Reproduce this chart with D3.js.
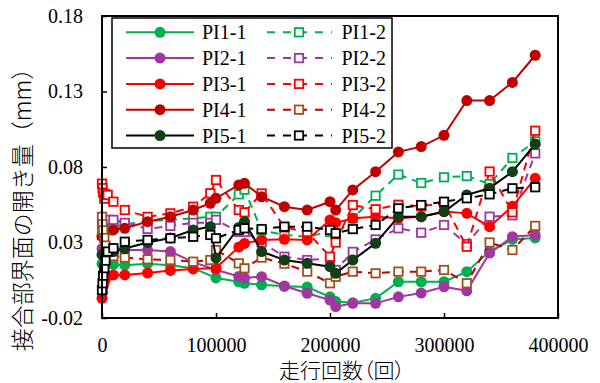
<!DOCTYPE html>
<html><head><meta charset="utf-8">
<script src="https://cdn.jsdelivr.net/npm/d3@7"></script>
<style>
body{margin:0;background:#fff;}
svg{display:block;}
</style></head>
<body>
<svg id="c" width="600" height="383"></svg>
<script>
// ---- data ----
const xs = [0, 500, 1000, 2000, 3000, 5000, 10000, 20000, 40000, 60000, 80000, 95000, 100000, 120000, 125000, 140000, 160000, 180000, 200000, 205000, 220000, 240000, 260000, 280000, 300000, 320000, 340000, 360000, 380000];
const pi1_1 = [0.016, null, null, null, null, 0.016, 0.0155, 0.015, 0.016, 0.015, 0.013, null, 0.0065, 0.004, 0.003, 0.002, 0.001, 0.0005, -0.006, -0.009, -0.0099, -0.007, 0.004, 0.004, 0.004, 0.0107, 0.024, 0.032, 0.033];
const pi1_2 = [0.035, null, null, null, null, 0.038, 0.040, 0.042, 0.044, 0.045, 0.046, 0.047, 0.047, 0.0619, 0.065, 0.038, 0.035, 0.034, 0.037, 0.035, 0.046, 0.061, 0.075, 0.0694, 0.0732, 0.074, 0.0687, 0.086, 0.097];
const pi2_1 = [0.026, null, null, null, null, null, 0.026, 0.025, 0.025, 0.024, 0.017, null, 0.012, 0.0075, 0.0065, 0.0074, 0.0012, -0.0036, -0.0081, -0.0125, -0.0103, -0.0103, -0.006, -0.0035, 0.0007, -0.002, 0.023, 0.0338, 0.035];
const pi2_2 = [0.042, null, 0.044, null, null, 0.045, 0.045, 0.043, 0.039, 0.041, 0.043, 0.043, 0.045, 0.037, 0.037, 0.030, 0.0206, 0.0184, 0.0195, 0.0118, 0.0238, 0.032, 0.0394, 0.0365, 0.0416, 0.029, 0.0471, 0.048, 0.089];
const pi3_1 = [-0.007, -0.003, 0.001, 0.004, 0.006, 0.008, 0.0085, 0.0085, 0.0098, 0.0115, 0.0125, null, 0.0131, 0.027, 0.0294, 0.0317, 0.0321, 0.0317, 0.0449, 0.043, 0.046, 0.047, 0.046, 0.047, 0.0505, 0.0493, 0.0405, 0.054, 0.0725];
const pi3_2 = [0.069, 0.066, 0.063, 0.059, 0.062, 0.0615, 0.057, 0.0515, 0.047, 0.0493, 0.0537, 0.0626, 0.0714, 0.0515, 0.050, 0.0625, 0.040, 0.037, 0.0206, 0.030, 0.0548, 0.052, 0.055, 0.054, 0.056, 0.0272, 0.077, 0.050, 0.104];
const pi4_1 = [0.034, null, null, null, null, null, 0.0383, 0.0394, 0.0438, 0.047, 0.0515, 0.056, 0.0593, 0.0681, 0.0692, 0.0603, 0.0537, 0.0515, 0.057, 0.0515, 0.0648, 0.0769, 0.090, 0.0935, 0.101, 0.124, 0.124, 0.136, 0.154];
const pi4_2 = [0.047, 0.042, 0.038, 0.033, 0.028, 0.022, 0.021, 0.020, 0.0189, 0.0184, 0.0173, 0.0184, 0.025, 0.0162, 0.0129, 0.020, 0.016, 0.0107, 0.003, 0.0073, 0.0107, 0.0096, 0.0107, 0.0107, 0.0118, 0.003, 0.030, 0.025, 0.041];
const pi5_1 = [0.022, null, null, null, null, 0.023, 0.024, 0.026, 0.030, 0.033, 0.0383, 0.0405, 0.0198, 0.040, 0.0438, 0.024, 0.0184, 0.0162, 0.014, 0.0096, 0.0184, 0.0295, 0.0471, 0.0471, 0.0504, 0.0615, 0.066, 0.0769, 0.0952];
const pi5_2 = [-0.0015, 0.003, 0.008, 0.013, 0.018, 0.024, 0.0262, 0.0305, 0.0317, 0.0328, 0.0338, 0.035, 0.0328, 0.0383, 0.0394, 0.0389, 0.0405, 0.0405, 0.0383, 0.0361, 0.0389, 0.0416, 0.0526, 0.0548, 0.057, 0.0593, 0.0619, 0.0659, 0.0666];
const seriesNames = ["PI1-1","PI1-2","PI2-1","PI2-2","PI3-1","PI3-2","PI4-1","PI4-2","PI5-1","PI5-2"];
const seriesValues = [pi1_1, pi1_2, pi2_1, pi2_2, pi3_1, pi3_2, pi4_1, pi4_2, pi5_1, pi5_2];
const yTicks = [-0.02, 0.03, 0.08, 0.13, 0.18];
const xTicks = [0, 100000, 200000, 300000, 400000];
const xTitle = "走行回数（回）";
const yTitle = "接合部界面の開き量（mm）";

// ---- styles ----
const styles = {
  "PI1-1": {line:"#00B050", mk:"circle", fill:"#00B050", stroke:"#00B050", dash:false},
  "PI1-2": {line:"#00B050", mk:"square", fill:"#fff", stroke:"#00B050", dash:true},
  "PI2-1": {line:"#A0379F", mk:"circle", fill:"#A0379F", stroke:"#A0379F", dash:false},
  "PI2-2": {line:"#A0379F", mk:"square", fill:"#fff", stroke:"#A0379F", dash:true},
  "PI3-1": {line:"#FF0000", mk:"circle", fill:"#FF0000", stroke:"#FF0000", dash:false},
  "PI3-2": {line:"#FF0000", mk:"square", fill:"#fff", stroke:"#FF0000", dash:true},
  "PI4-1": {line:"#C00000", mk:"circle", fill:"#C00000", stroke:"#C00000", dash:false},
  "PI4-2": {line:"#C00000", mk:"square", fill:"#fff", stroke:"#A0501E", dash:true},
  "PI5-1": {line:"#000000", mk:"circle", fill:"#123F17", stroke:"#123F17", dash:false},
  "PI5-2": {line:"#000000", mk:"square", fill:"#fff", stroke:"#000000", dash:true}
};
const serif = "'Liberation Serif','Times New Roman',serif";
const cjk = "'Noto Sans CJK JP','Noto Sans CJK SC',sans-serif";

const svg = d3.select("#c");
svg.append("rect").attr("width",600).attr("height",383).attr("fill","#fff");
const L = 102, R = 558, T = 16, B = 318;
const x = d3.scaleLinear().domain([0,400000]).range([L,R]);
const y = d3.scaleLinear().domain([-0.02,0.18]).range([B,T]);

// axes
const yAx = svg.append("g").attr("transform",`translate(${L},0)`)
  .call(d3.axisLeft(y).tickValues(yTicks).tickSizeInner(-5).tickSizeOuter(0).tickPadding(19).tickFormat(d=>d.toFixed(2)));
const xAx = svg.append("g").attr("transform",`translate(0,${B})`)
  .call(d3.axisBottom(x).tickValues(xTicks).tickSizeInner(-5).tickSizeOuter(0).tickPadding(20).tickFormat(d=>String(d)));
[yAx,xAx].forEach(g=>{
  g.select(".domain").remove();
  g.selectAll(".tick line").attr("stroke","#000").attr("stroke-width",1.5);
  g.selectAll(".tick text").attr("fill","#000").style("font-family",serif).style("font-size","20px");
});

// series
const dataOf = vals => xs.map((xv,i)=>({x:xv,y:vals[i]})).filter(d=>d.y!==null);
const line = d3.line().x(d=>x(d.x)).y(d=>y(d.y));
const plot = svg.append("g");
function drawMarker(g, st, cx, cy){
  if(st.mk==="circle"){
    g.append("circle").attr("cx",cx).attr("cy",cy).attr("r",5.5).attr("fill",st.fill);
  } else {
    g.append("rect").attr("x",cx-4.2).attr("y",cy-4.2).attr("width",8.4).attr("height",8.4)
      .attr("fill",st.fill).attr("stroke",st.stroke).attr("stroke-width",1.8);
  }
}
seriesNames.forEach((name,i)=>{
  const st = styles[name];
  const data = dataOf(seriesValues[i]);
  const g = plot.append("g");
  g.append("path").datum(data).attr("d",line).attr("fill","none")
    .attr("stroke",st.line).attr("stroke-width",2)
    .attr("stroke-dasharray", st.dash ? "8,6" : null);
  data.forEach(d=>drawMarker(g, st, x(d.x), y(d.y)));
});

// frame
svg.append("rect").attr("x",L).attr("y",T).attr("width",R-L).attr("height",B-T)
  .attr("fill","none").attr("stroke","#000").attr("stroke-width",2);

// legend
const lg = svg.append("g");
lg.append("rect").attr("x",112).attr("y",18).attr("width",280).attr("height",130)
  .attr("fill","#fff").attr("stroke","#000").attr("stroke-width",1.5);
seriesNames.forEach((name,i)=>{
  const st = styles[name];
  const col = i % 2, row = Math.floor(i/2);
  const ry = 32.3 + row*25.8;
  const x0 = col===0 ? 126 : 267, x1 = col===0 ? 194 : 332, mx = col===0 ? 160 : 299;
  lg.append("line").attr("x1",x0).attr("x2",x1).attr("y1",ry).attr("y2",ry)
    .attr("stroke",st.line).attr("stroke-width",2)
    .attr("stroke-dasharray", st.dash ? "8,8" : null);
  drawMarker(lg, st, mx, ry);
  lg.append("text").attr("x", col===0 ? 202 : 341.5).attr("y", ry+7)
    .style("font-family",serif).style("font-size","20px").attr("fill","#000").text(name);
});

// titles
svg.append("text").attr("x",342).attr("y",378).attr("text-anchor","middle")
  .style("font-family",cjk).style("font-size","21px").style("font-weight","300").style("font-feature-settings","'palt'")
  .attr("fill","#000").text(xTitle);
svg.append("text").attr("transform","translate(31,204) rotate(-90)").attr("text-anchor","middle")
  .style("font-family",cjk).style("font-size","23px").style("font-weight","300")
  .attr("fill","#000").text(yTitle);
</script>
</body></html>
